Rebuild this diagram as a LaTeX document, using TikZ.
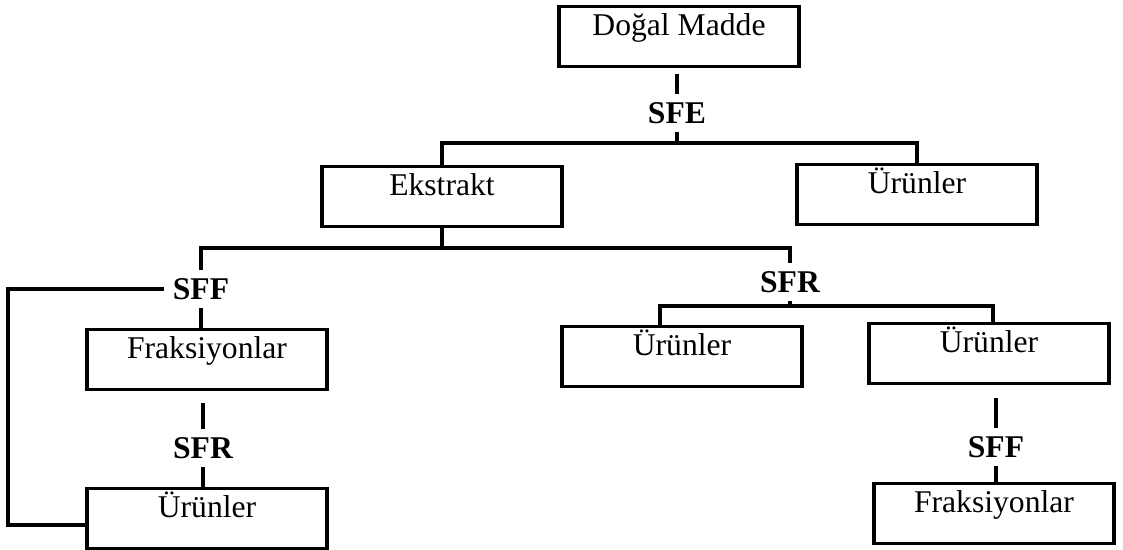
\documentclass[tikz,border=0pt]{standalone}
\usepackage{fontspec}
\setmainfont{Liberation Serif}
\usepackage{tikz}

\begin{document}
\begin{tikzpicture}[x=0.025cm, y=-0.025cm, line width=2.4pt,
  every node/.append style={font=\fontsize{22.5}{27}\selectfont}]
  \tikzstyle{box} = [draw, anchor=north, inner sep=0pt, minimum width=6cm,
    text height=0.72cm, text depth=0.78cm]
  \tikzstyle{word} = [font=\fontsize{22.5}{27}\selectfont\bfseries, inner sep=5pt]
  \useasboundingbox (0,0) rectangle (1123,550);
  \node (1_1) [box] at (679,5) {Doğal Madde};
  \node (2_1) [box] at (442,165) {Ekstrakt};
  \node (2_2) [box] at (917,163) {Ürünler};
  \node (3_1) [box] at (207,328) {Fraksiyonlar};
  \node (3_2) [box] at (207,487) {Ürünler};
  \node (3_3) [box] at (682,325) {Ürünler};
  \node (3_4) [box] at (989,322) {Ürünler};
  \node (4_1) [box] at (994,482) {Fraksiyonlar};
  \node (s_1) [word] at (677,113) {SFE};
  \node (s_2) [word] at (201,289) {SFF};
  \node (s_3) [word] at (203,448) {SFR};
  \node (s_4) [word] at (790,282) {SFR};
  \node (s_5) [word] at (996,447) {SFF};
  \coordinate (j_1) at (677,143);
  \coordinate (j_2) at (442,248);
  \coordinate (j_3) at (660,306);
  \coordinate (j_4) at (993,306);
  \coordinate (f_1) at (8,525);
  \draw[shorten <=4pt] (1_1.south -| s_1) -- (s_1);
  \draw (s_1) -- (j_1);
  \draw (2_1) |- (j_1) -| (2_2);
  \draw (2_1) -- (j_2);
  \draw (s_2) |- (j_2) -| (s_4);
  \draw (s_2) -| (f_1) -- (f_1 -| 3_2.west);
  \draw (s_2) -- (s_2 |- 3_1.north);
  \draw[shorten <=8pt] (3_1.south -| s_3) -- (s_3);
  \draw (s_3) -- (s_3 |- 3_2.north);
  \draw (s_4) -- (s_4 |- j_3);
  \draw (j_3 |- 3_3.north) -- (j_3) -- (j_4) -- (j_4 |- 3_4.north);
  \draw[shorten <=9pt] (3_4.south -| s_5) -- (s_5);
  \draw (s_5) -- (s_5 |- 4_1.north);
\end{tikzpicture}
\end{document}
